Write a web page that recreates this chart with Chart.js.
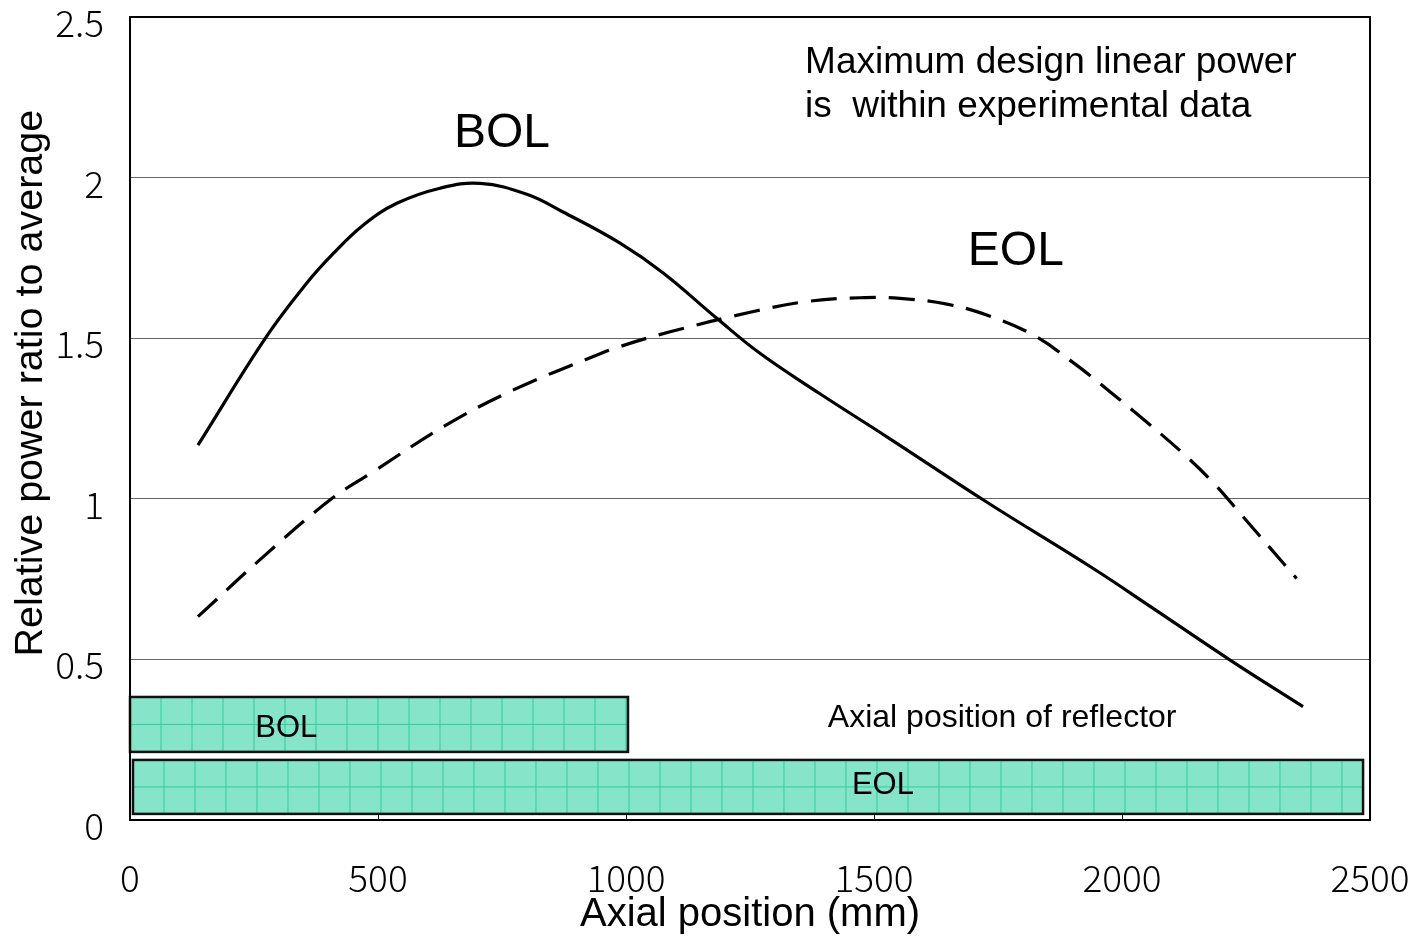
<!DOCTYPE html>
<html>
<head>
<meta charset="utf-8">
<script src="https://cdn.jsdelivr.net/npm/chart.js@4.4.0/dist/chart.umd.min.js"></script>
<style>
  body { margin: 0; background: #fff; }
  #wrap { width: 1416px; height: 939px; }
</style>
</head>
<body>
<div id="wrap"><canvas id="myChart"></canvas></div>
<script>
// axial position (mm) and relative power
const bolX = [137, 275, 356, 410, 470, 538, 625, 706, 800, 873, 988, 1075, 1183, 1270, 1391, 1526, 1727, 1942, 2056, 2218, 2365];
const bolY = [1.167, 1.505, 1.671, 1.764, 1.852, 1.920, 1.967, 1.982, 1.948, 1.893, 1.796, 1.703, 1.562, 1.453, 1.327, 1.193, 0.990, 0.783, 0.666, 0.498, 0.353];
const eolX = [137, 269, 403, 490, 638, 773, 934, 988, 1089, 1257, 1364, 1472, 1552, 1647, 1727, 1821, 1905, 1977, 2049, 2124, 2184, 2238, 2352];
const eolY = [0.633, 0.820, 0.996, 1.084, 1.230, 1.339, 1.443, 1.474, 1.520, 1.583, 1.614, 1.626, 1.624, 1.606, 1.572, 1.510, 1.420, 1.332, 1.240, 1.140, 1.050, 0.955, 0.752];

// reflector extents: [x from, x to, y from, y to]
const bolReflector = [0, 1004, 0.212, 0.383];
const eolReflector = [6, 2486, 0.019, 0.187];

const xTicks = [0, 500, 1000, 1500, 2000, 2500];
const yTicks = [0, 0.5, 1, 1.5, 2, 2.5];

const SANS = "'Liberation Sans', Arial, sans-serif";
const TICKFONT = "'Noto Sans CJK JP', 'Liberation Sans', sans-serif";

function toPoints(xs, ys) {
    return xs.map((x, i) => ({ x: x, y: ys[i] }));
}

function drawReflector(ctx, xs, ys, r) {
    const l = xs.getPixelForValue(r[0]);
    const rt = xs.getPixelForValue(r[1]);
    const b = ys.getPixelForValue(r[2]);
    const t = ys.getPixelForValue(r[3]);
    ctx.save();
    ctx.fillStyle = "#86e4c9";
    ctx.fillRect(l, t, rt - l, b - t);
    ctx.strokeStyle = "#2ccf9c";
    ctx.lineWidth = 1;
    ctx.beginPath();
    for (let x = l + 31; x < rt; x += 31) {
        ctx.moveTo(x, t);
        ctx.lineTo(x, b);
    }
    ctx.moveTo(l, (t + b) / 2);
    ctx.lineTo(rt, (t + b) / 2);
    ctx.stroke();
    ctx.strokeStyle = "#111";
    ctx.lineWidth = 2.5;
    ctx.strokeRect(l, t, rt - l, b - t);
    ctx.restore();
}

function label(ctx, xs, ys, text, x, y, size, align) {
    ctx.font = size + "px " + SANS;
    ctx.fillStyle = "#000";
    ctx.textAlign = align || "center";
    ctx.textBaseline = "middle";
    ctx.fillText(text, xs.getPixelForValue(x), ys.getPixelForValue(y));
}

// keep the plot box where the layout padding puts it
function noEdgePadding(s) {
    s.paddingTop = 0;
    s.paddingBottom = 0;
    s.paddingLeft = 0;
    s.paddingRight = 0;
}

const overlay = {
    id: "overlay",
    beforeDatasetsDraw(chart) {
        const ctx = chart.ctx;
        drawReflector(ctx, chart.scales.x, chart.scales.y, bolReflector);
        drawReflector(ctx, chart.scales.x, chart.scales.y, eolReflector);
    },
    afterDraw(chart) {
        const ctx = chart.ctx;
        const a = chart.chartArea;
        const xs = chart.scales.x;
        const ys = chart.scales.y;
        ctx.save();
        // small inward ticks on the x axis
        ctx.strokeStyle = "#000";
        ctx.lineWidth = 1;
        ctx.beginPath();
        xTicks.forEach(v => {
            const px = Math.round(xs.getPixelForValue(v)) + 0.5;
            ctx.moveTo(px, a.bottom);
            ctx.lineTo(px, a.bottom - 6);
        });
        ctx.stroke();
        // frame
        ctx.lineWidth = 2;
        ctx.strokeRect(a.left, a.top, a.right - a.left, a.bottom - a.top);

        // y axis title (sits a bit above the middle of the axis)
        ctx.save();
        ctx.translate(31, ys.getPixelForValue(1.36));
        ctx.rotate(-Math.PI / 2);
        ctx.font = "39.5px " + SANS;
        ctx.fillStyle = "#000";
        ctx.textAlign = "center";
        ctx.textBaseline = "middle";
        ctx.fillText("Relative power ratio to average", 0, 0);
        ctx.restore();

        label(ctx, xs, ys, "BOL", 750, 2.135, 48);
        label(ctx, xs, ys, "EOL", 1786, 1.768, 48);
        label(ctx, xs, ys, "Maximum design linear power", 1361, 2.357, 37, "left");
        label(ctx, xs, ys, "is  within experimental data", 1361, 2.22, 37, "left");
        label(ctx, xs, ys, "Axial position of reflector", 1407, 0.318, 32, "left");
        label(ctx, xs, ys, "BOL", 315, 0.286, 31);
        label(ctx, xs, ys, "EOL", 1518, 0.109, 31);
        ctx.restore();
    }
};

const ctx = document.getElementById("myChart").getContext("2d");
const myChart = new Chart(ctx, {
    type: "line",
    data: {
        datasets: [
            {
                label: "BOL",
                data: toPoints(bolX, bolY),
                borderColor: "#000",
                borderWidth: 3.2,
                pointRadius: 0,
                tension: 0.4,
                fill: false
            },
            {
                label: "EOL",
                data: toPoints(eolX, eolY),
                borderColor: "#000",
                borderWidth: 3.2,
                borderDash: [26, 13],
                pointRadius: 0,
                tension: 0.4,
                fill: false
            }
        ]
    },
    options: {
        responsive: true,
        maintainAspectRatio: false,
        animation: false,
        layout: { padding: { top: 17, right: 46, left: 0, bottom: 0 } },
        plugins: {
            legend: { display: false },
            tooltip: { enabled: false }
        },
        scales: {
            x: {
                type: "linear",
                min: 0,
                max: 2500,
                afterBuildTicks: s => { s.ticks = xTicks.map(v => ({ value: v })); },
                afterFit: s => { s.height = 119; noEdgePadding(s); },
                grid: { display: false, drawTicks: false },
                border: { display: false },
                ticks: {
                    padding: 36,
                    maxRotation: 0,
                    color: "#000",
                    font: { family: TICKFONT, size: 37, weight: 300 },
                    callback: v => String(v)
                },
                title: {
                    display: true,
                    text: "Axial position (mm)",
                    color: "#000",
                    font: { family: SANS, size: 40 },
                    padding: { top: 0, bottom: 0 }
                }
            },
            y: {
                min: 0,
                max: 2.5,
                afterBuildTicks: s => { s.ticks = yTicks.map(v => ({ value: v })); },
                afterFit: s => { s.width = 130; noEdgePadding(s); },
                grid: { color: "#666", lineWidth: 1, drawTicks: false },
                border: { display: false },
                ticks: {
                    padding: 26,
                    labelOffset: 6,
                    color: "#000",
                    font: { family: TICKFONT, size: 37, weight: 300 },
                    callback: v => String(v)
                },
                title: { display: false }
            }
        }
    },
    plugins: [overlay]
});
</script>
</body>
</html>
